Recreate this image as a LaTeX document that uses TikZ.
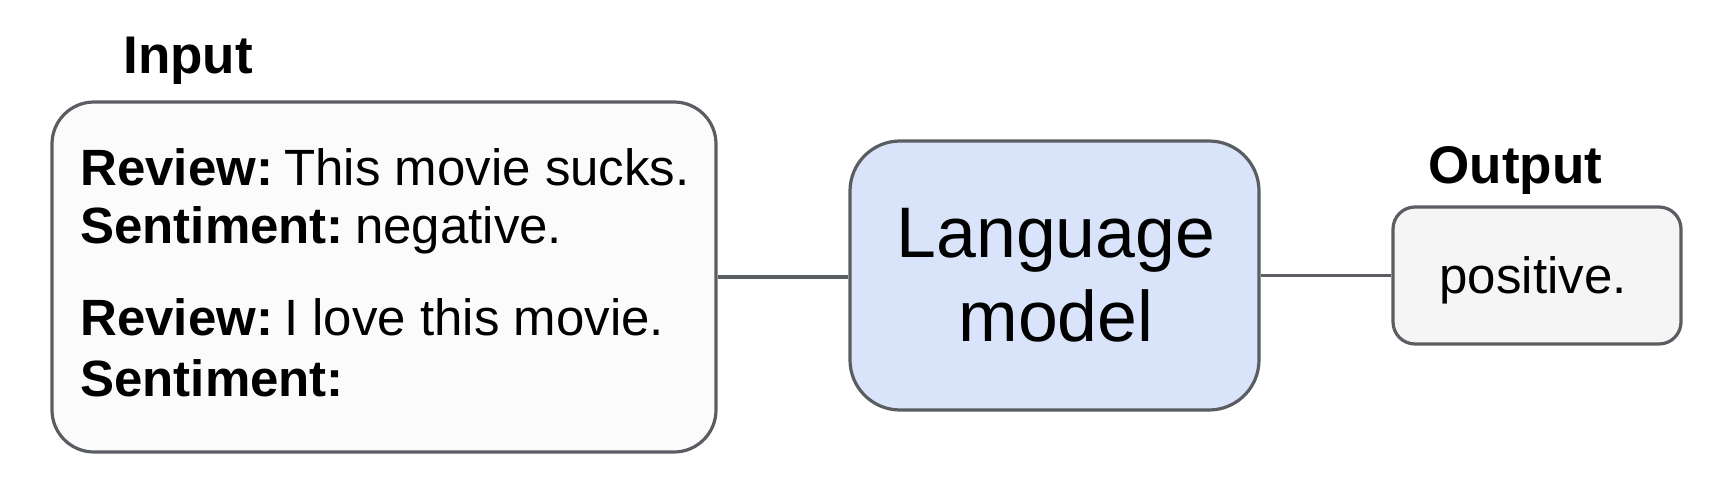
\documentclass[tikz,border=0pt]{standalone}
\usepackage{fontspec}
\setmainfont{Liberation Sans}
\definecolor{edge}{HTML}{5A5E63}
\definecolor{infill}{HTML}{FBFBFB}
\definecolor{lmfill}{HTML}{D9E4FA}
\definecolor{outfill}{HTML}{F5F5F5}
\newcommand{\hd}[1]{\textbf{#1}\hspace{0.22em}}
\begin{document}
\begin{tikzpicture}[x=0.5pt,y=-0.5pt,
 box/.style={draw=edge,line width=1.6pt,inner sep=0pt,rectangle},
 txt/.style={inner sep=0pt,anchor=base west,font=\fontsize{25.5}{30}\selectfont},
 lbl/.style={inner sep=0pt,anchor=base west,font=\fontsize{26.5}{31}\selectfont\bfseries},
 big/.style={inner sep=0pt,anchor=base,font=\fontsize{35.8}{42}\selectfont},
 link/.style={draw=edge,line width=1.6pt}]
\useasboundingbox (0,0) rectangle (1718,492);
\node[box,fill=infill,rounded corners=21pt,minimum width=332pt,minimum height=175pt] (in) at (384,277) {};
\node[box,fill=lmfill,rounded corners=25pt,minimum width=204.5pt,minimum height=134.5pt] (lm) at (1054.5,275.5) {};
\node[box,fill=outfill,rounded corners=11pt,minimum width=144pt,minimum height=68.5pt] (out) at (1537,275.5) {};
\node[lbl] (inlbl) at (123,74) {Input};
\node[lbl] (outlbl) at (1428,184) {Output};
\node[txt] (r1) at (80,185) {\hd{Review:}This movie sucks.};
\node[txt] (s1) at (80,243) {\hd{Sentiment:}negative.};
\node[txt] (r2) at (80,335) {\hd{Review:}I love this movie.};
\node[txt] (s2) at (80,396) {\textbf{Sentiment:}};
\node[big] (lm1) at (1056,257) {Language};
\node[big] (lm2) at (1056,341) {model};
\node[txt,anchor=base] (pos) at (1533,293) {positive.};
\draw[link] (in.east) -- (in.east -| lm.west);
\draw[link] (lm.east) -- (lm.east -| out.west);
\end{tikzpicture}
\end{document}
